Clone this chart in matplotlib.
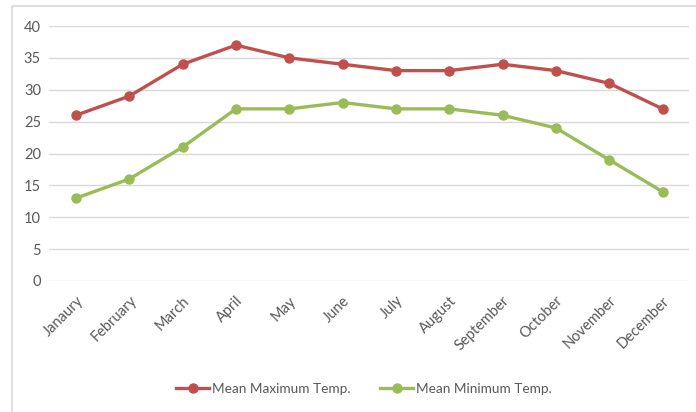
import matplotlib.pyplot as plt
from matplotlib.patches import Rectangle

# 月份和温度数据
months = ['Janaury', 'February', 'March', 'April', 'May', 'June', 'July',
          'August', 'September', 'October', 'November', 'December']
max_temp = [26, 29, 34, 37, 35, 34, 33, 33, 34, 33, 31, 27]
min_temp = [13, 16, 21, 27, 27, 28, 27, 27, 26, 24, 19, 14]

plt.rcParams['font.family'] = ['Lato', 'DejaVu Sans']

fig = plt.figure(figsize=(6.96, 4.12), dpi=100)
W, H = 696, 412

# 外框
fig.patches.append(Rectangle((12 / W, -0.1), 1.0, 1 - 6 / H + 0.1,
                             transform=fig.transFigure, fill=False,
                             edgecolor='#d9d9d9', linewidth=1.2))

ax = fig.add_axes([49.3 / W, 1 - 281 / H, 640 / W, 255 / H])
x = range(len(months))
ax.plot(x, max_temp, color='#C0504D', lw=2.4, marker='o', ms=6.5,
        label='Mean Maximum Temp.')
ax.plot(x, min_temp, color='#9BBB59', lw=2.4, marker='o', ms=6.5,
        label='Mean Minimum Temp.')

ax.set_xlim(-0.5, 11.5)
ax.set_ylim(0, 40)
ax.set_yticks(range(0, 41, 5))
ax.grid(axis='y', color='#d9d9d9', lw=1)
ax.set_axisbelow(True)
for s in ax.spines.values():
    s.set_visible(False)
ax.tick_params(length=0, colors='#595959', labelsize=10.5)
ax.tick_params(axis='y', pad=6)
ax.tick_params(axis='x', pad=9)
ax.set_xticks(list(x))
ax.set_xticklabels(months, rotation=45, ha='right', rotation_mode='anchor')

fig.legend(loc='center', bbox_to_anchor=(364 / W, 1 - 389 / H), ncol=2,
           frameon=False, fontsize=9.8, labelcolor='#595959',
           handlelength=2.4, handletextpad=0.2, columnspacing=2.2)

fig.savefig('out.png', dpi=100)
